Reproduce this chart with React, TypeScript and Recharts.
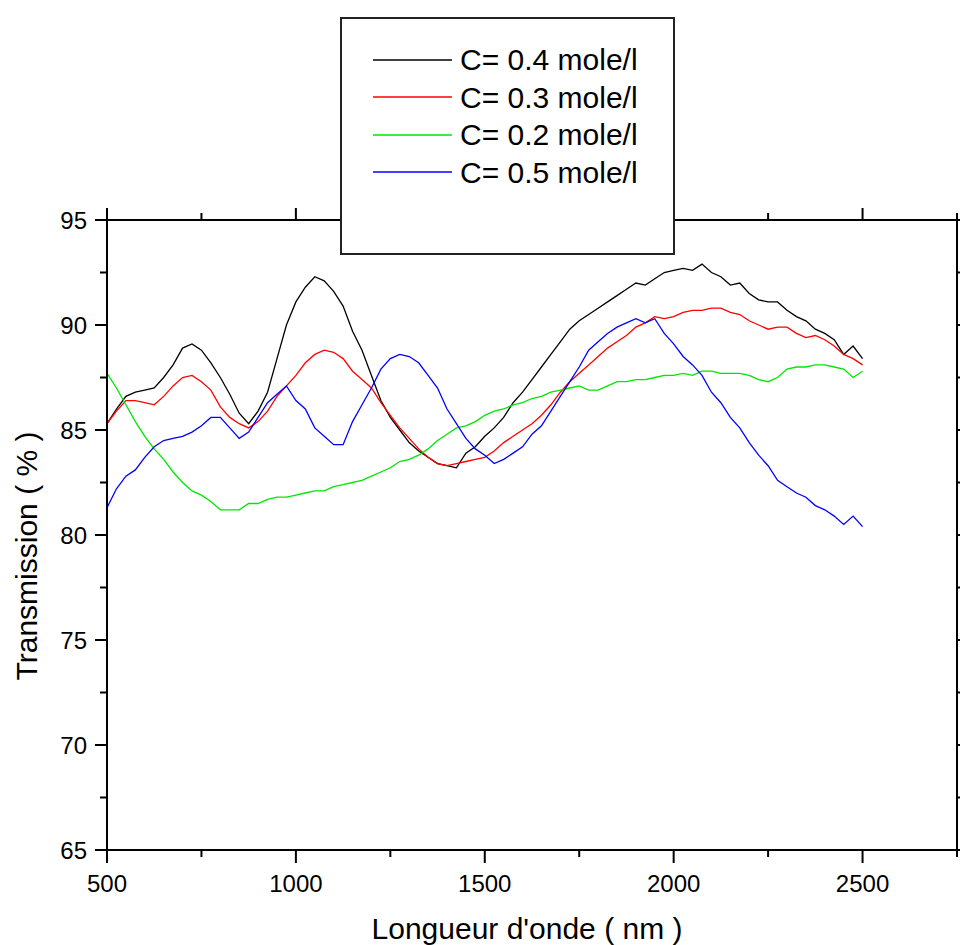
import { Legend, Line, LineChart, XAxis, YAxis } from 'recharts'

const wavelengths = [
  500, 525, 550, 575, 600, 625, 650, 675, 700, 725, 750, 775, 800, 825, 850, 875, 900, 925, 950, 975,
  1000, 1025, 1050, 1075, 1100, 1125, 1150, 1175, 1200, 1225, 1250, 1275, 1300, 1325, 1350, 1375, 1400, 1425, 1450, 1475,
  1500, 1525, 1550, 1575, 1600, 1625, 1650, 1675, 1700, 1725, 1750, 1775, 1800, 1825, 1850, 1875, 1900, 1925, 1950, 1975,
  2000, 2025, 2050, 2075, 2100, 2125, 2150, 2175, 2200, 2225, 2250, 2275, 2300, 2325, 2350, 2375, 2400, 2425, 2450, 2475,
  2500,
]

const c04 = [
  85.3, 86.0, 86.6, 86.8, 86.9, 87.0, 87.5, 88.1, 88.9, 89.1, 88.8, 88.2, 87.5, 86.7, 85.8, 85.3, 85.9, 86.8, 88.4, 90.0,
  91.1, 91.8, 92.3, 92.1, 91.6, 90.9, 89.7, 88.8, 87.6, 86.4, 85.6, 85.0, 84.4, 84.0, 83.7, 83.4, 83.3, 83.2, 83.9, 84.2,
  84.7, 85.1, 85.6, 86.3, 86.8, 87.4, 88.0, 88.6, 89.2, 89.8, 90.2, 90.5, 90.8, 91.1, 91.4, 91.7, 92.0, 91.9, 92.2, 92.5,
  92.6, 92.7, 92.6, 92.9, 92.5, 92.3, 91.9, 92.0, 91.5, 91.2, 91.1, 91.1, 90.7, 90.4, 90.2, 89.8, 89.6, 89.3, 88.6, 89.0,
  88.4,
]

const c03 = [
  85.3, 85.9, 86.4, 86.4, 86.3, 86.2, 86.6, 87.1, 87.5, 87.6, 87.3, 86.9, 86.1, 85.6, 85.3, 85.1, 85.4, 85.9, 86.6, 87.1,
  87.6, 88.2, 88.6, 88.8, 88.7, 88.4, 87.8, 87.4, 87.0, 86.3, 85.7, 85.1, 84.6, 84.1, 83.7, 83.4, 83.3, 83.4, 83.5, 83.6,
  83.7, 84.0, 84.4, 84.7, 85.0, 85.3, 85.7, 86.2, 86.8, 87.3, 87.7, 88.1, 88.5, 88.9, 89.2, 89.5, 89.9, 90.1, 90.4, 90.3,
  90.4, 90.6, 90.7, 90.7, 90.8, 90.8, 90.6, 90.5, 90.2, 90.0, 89.8, 89.9, 89.9, 89.6, 89.4, 89.5, 89.3, 89.0, 88.6, 88.4,
  88.1,
]

const c02 = [
  87.7, 87.0, 86.2, 85.4, 84.7, 84.1, 83.6, 83.0, 82.5, 82.1, 81.9, 81.6, 81.2, 81.2, 81.2, 81.5, 81.5, 81.7, 81.8, 81.8,
  81.9, 82.0, 82.1, 82.1, 82.3, 82.4, 82.5, 82.6, 82.8, 83.0, 83.2, 83.5, 83.6, 83.8, 84.1, 84.5, 84.8, 85.1, 85.2, 85.4,
  85.7, 85.9, 86.0, 86.2, 86.3, 86.5, 86.6, 86.8, 86.9, 87.0, 87.1, 86.9, 86.9, 87.1, 87.3, 87.3, 87.4, 87.4, 87.5, 87.6,
  87.6, 87.7, 87.6, 87.8, 87.8, 87.7, 87.7, 87.7, 87.6, 87.4, 87.3, 87.5, 87.9, 88.0, 88.0, 88.1, 88.1, 88.0, 87.9, 87.5,
  87.8,
]

const c05 = [
  81.3, 82.2, 82.8, 83.1, 83.7, 84.2, 84.5, 84.6, 84.7, 84.9, 85.2, 85.6, 85.6, 85.1, 84.6, 84.9, 85.6, 86.3, 86.7, 87.1,
  86.4, 86.0, 85.1, 84.7, 84.3, 84.3, 85.4, 86.2, 87.0, 87.9, 88.4, 88.6, 88.5, 88.2, 87.6, 87.0, 86.0, 85.3, 84.6, 84.1,
  83.8, 83.4, 83.6, 83.9, 84.2, 84.8, 85.2, 85.9, 86.6, 87.3, 88.0, 88.8, 89.2, 89.6, 89.9, 90.1, 90.3, 90.1, 90.3, 89.6,
  89.1, 88.5, 88.1, 87.6, 86.8, 86.3, 85.6, 85.1, 84.4, 83.8, 83.3, 82.6, 82.3, 82.0, 81.8, 81.4, 81.2, 80.9, 80.5, 80.9,
  80.4,
]

const seriesList = [
  { key: 'c04', name: 'C= 0.4 mole/l', color: '#000000' },
  { key: 'c03', name: 'C= 0.3 mole/l', color: '#ff0000' },
  { key: 'c02', name: 'C= 0.2 mole/l', color: '#00e600' },
  { key: 'c05', name: 'C= 0.5 mole/l', color: '#0000ff' },
]

const xTicks = [500, 750, 1000, 1250, 1500, 1750, 2000, 2250, 2500, 2750]
const yTicks = [65, 67.5, 70, 72.5, 75, 77.5, 80, 82.5, 85, 87.5, 90, 92.5, 95]

const data = wavelengths.map((wl, i) => ({
  wl,
  c04: c04[i],
  c03: c03[i],
  c02: c02[i],
  c05: c05[i],
}))

const font = '"Liberation Sans", Arial, sans-serif'

function BottomTick({ x, y, payload }: any) {
  const major = payload.value % 500 === 0
  return (
    <g>
      <line x1={x} y1={y} x2={x} y2={y + (major ? 13 : 7)} stroke="#000" strokeWidth={2} />
      {major && payload.value <= 2500 && (
        <text x={x} y={y + 42} textAnchor="middle" fontSize={24} fontFamily={font} fill="#000">
          {payload.value}
        </text>
      )}
    </g>
  )
}

function TopTick({ x, y, payload }: any) {
  const major = payload.value % 500 === 0
  return <line x1={x} y1={y} x2={x} y2={y - (major ? 12 : 7)} stroke="#000" strokeWidth={2} />
}

function LeftTick({ x, y, payload }: any) {
  const major = payload.value % 5 === 0
  return (
    <g>
      <line x1={x - (major ? 12 : 7)} y1={y} x2={x} y2={y} stroke="#000" strokeWidth={2} />
      {major && (
        <text x={x - 20} y={y} dy="0.36em" textAnchor="end" fontSize={24} fontFamily={font} fill="#000">
          {payload.value}
        </text>
      )}
    </g>
  )
}

function RightTick({ x, y, payload }: any) {
  const major = payload.value % 5 === 0
  return <line x1={x} y1={y} x2={x + (major ? 12 : 7)} y2={y} stroke="#000" strokeWidth={2} />
}

function LegendBox() {
  return (
    <div
      style={{
        width: 335,
        height: 238,
        boxSizing: 'border-box',
        border: '2px solid #222',
        background: '#fff',
        paddingTop: 22,
        fontFamily: font,
        fontSize: 30,
        color: '#000',
      }}
    >
      {seriesList.map((s) => (
        <div key={s.key} style={{ display: 'flex', alignItems: 'center', height: 37.5 }}>
          <svg width={79} height={4} style={{ marginLeft: 31, marginRight: 8 }}>
            <line x1={0} y1={2} x2={79} y2={2} stroke={s.color} strokeWidth={1.5} />
          </svg>
          <span style={{ lineHeight: '37.5px' }}>{s.name}</span>
        </div>
      ))}
    </div>
  )
}

export default function App() {
  return (
    <div style={{ position: 'absolute', left: 0, top: 0, width: 960, height: 945, background: '#fff' }}>
      <LineChart width={960} height={945} data={data} margin={{ top: 210, right: 0, bottom: 0, left: 0 }}>
        <XAxis
          dataKey="wl"
          type="number"
          domain={[500, 2750]}
          ticks={xTicks}
          allowDataOverflow
          height={95}
          tickSize={0}
          tickMargin={0}
          tickLine={false}
          axisLine={{ stroke: '#000', strokeWidth: 2 }}
          tick={<BottomTick />}
          interval={0}
          label={{
            content: () => (
              <text x={527} y={939} textAnchor="middle" fontSize={30} fontFamily={font} fill="#000">
                Longueur d'onde ( nm )
              </text>
            ),
          }}
        />
        <XAxis
          xAxisId="top"
          orientation="top"
          dataKey="wl"
          type="number"
          domain={[500, 2750]}
          ticks={xTicks}
          allowDataOverflow
          height={10}
          tickSize={0}
          tickMargin={0}
          tickLine={false}
          axisLine={{ stroke: '#000', strokeWidth: 2 }}
          tick={<TopTick />}
          interval={0}
        />
        <YAxis
          type="number"
          domain={[65, 95]}
          ticks={yTicks}
          allowDataOverflow
          width={107}
          tickSize={0}
          tickMargin={0}
          tickLine={false}
          axisLine={{ stroke: '#000', strokeWidth: 2 }}
          tick={<LeftTick />}
          interval={0}
          label={{
            content: () => (
              <text
                x={37}
                y={556}
                transform="rotate(-90 37 556)"
                textAnchor="middle"
                fontSize={30}
                fontFamily={font}
                fill="#000"
              >
                Transmission ( % )
              </text>
            ),
          }}
        />
        <YAxis
          yAxisId="right"
          orientation="right"
          type="number"
          domain={[65, 95]}
          ticks={yTicks}
          allowDataOverflow
          width={3}
          tickSize={0}
          tickMargin={0}
          tickLine={false}
          axisLine={{ stroke: '#000', strokeWidth: 2 }}
          tick={<RightTick />}
          interval={0}
        />
        {seriesList.map((s) => (
          <Line
            key={s.key}
            dataKey={s.key}
            name={s.name}
            type="linear"
            stroke={s.color}
            strokeWidth={1.3}
            dot={false}
            activeDot={false}
            isAnimationActive={false}
          />
        ))}
        <Legend
          layout="vertical"
          align="center"
          verticalAlign="middle"
          content={() => <LegendBox />}
          wrapperStyle={{ position: 'absolute', left: 340, top: 17, width: 335, height: 238, margin: 0 }}
        />
      </LineChart>
    </div>
  )
}
